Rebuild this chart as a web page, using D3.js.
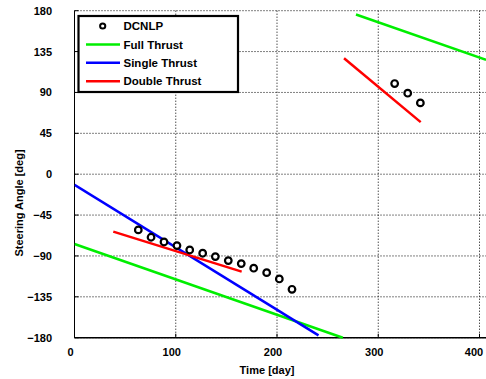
<!DOCTYPE html>
<html><head><meta charset="utf-8">
<script src="https://cdn.jsdelivr.net/npm/d3@7"></script>
<style>body{margin:0;background:#fff}svg{display:block}text{font-family:"Liberation Sans",Arial,sans-serif;font-weight:bold}</style>
</head><body><svg id="c" width="486" height="379"></svg>
<script>
const xTicks=[0,100,200,300,400];
const yTicks=[-180,-135,-90,-45,0,45,90,135,180];
const dcnlpDay=[63,75.6,88.4,101.2,113.8,126.6,139.1,151.9,164.7,177,189.8,202.3,214.8,316.2,329.1,341.6];
const dcnlpAngle=[-61.3,-69.4,-74.6,-78.6,-83.4,-87,-90.7,-95.1,-98.4,-103.5,-108.4,-115.3,-126.7,99.8,89.2,78.5];
const fullDay1=[0,265],fullAngle1=[-76.8,-180];
const fullDay2=[278,406.5],fullAngle2=[175.8,125.9];
const singleDay=[0,241],singleAngle=[-11.8,-177.5];
const doubleDay1=[38.3,165.1],doubleAngle1=[-63.2,-107.3];
const doubleDay2=[266.2,341.9],doubleAngle2=[127.7,57.3];
const legendLabels=["DCNLP","Full Thrust","Single Thrust","Double Thrust"];

const svg=d3.select("#c");
const L=74.5,R=486,T=10.7,B=337.7;
const x=d3.scaleLinear().domain([0,406]).range([L,L+406*1.0125]);
const y=d3.scaleLinear().domain([-180,180]).range([B,T]);
svg.append("defs").append("clipPath").attr("id","cl").append("rect").attr("x",L).attr("y",T-3).attr("width",R-L).attr("height",B-T+6);
const g=svg.append("g");
// grid
xTicks.filter(d=>d>0).forEach(d=>g.append("line").attr("x1",x(d)).attr("x2",x(d)).attr("y1",T).attr("y2",B).attr("stroke","#000").attr("stroke-dasharray","1,2"));
yTicks.forEach(d=>g.append("line").attr("x1",L).attr("x2",R).attr("y1",y(d)).attr("y2",y(d)).attr("stroke","#000").attr("stroke-dasharray","1,2"));
// axes frame
g.append("line").attr("x1",L).attr("x2",L).attr("y1",T).attr("y2",B).attr("stroke","#000").attr("stroke-width",1);
g.append("line").attr("x1",L).attr("x2",R).attr("y1",B).attr("y2",B).attr("stroke","#000").attr("stroke-width",1.5);
// ticks
xTicks.forEach(d=>g.append("line").attr("x1",x(d)).attr("x2",x(d)).attr("y1",B).attr("y2",B-4).attr("stroke","#000"));
yTicks.forEach(d=>g.append("line").attr("x1",L).attr("x2",L+4).attr("y1",y(d)).attr("y2",y(d)).attr("stroke","#000"));
// labels
xTicks.forEach(d=>g.append("text").attr("x",Math.min(x(d)-4,474)).attr("y",356).attr("text-anchor","middle").attr("font-size",11).text(d));
yTicks.forEach(d=>g.append("text").attr("x",52).attr("y",y(d)+4).attr("text-anchor","end").attr("font-size",11).text(d<0?"\u2212"+(-d):d));
g.append("text").attr("x",267).attr("y",374).attr("text-anchor","middle").attr("font-size",11).text("Time [day]");
g.append("text").attr("transform","translate(23,203) rotate(-90)").attr("text-anchor","middle").attr("font-size",11).text("Steering Angle [deg]");
// lines
const line=d3.line().x(d=>x(d[0])).y(d=>y(d[1]));
const pl=g.append("g").attr("clip-path","url(#cl)");
function draw(ds,as,c){pl.append("path").datum(d3.zip(ds,as)).attr("d",line).attr("fill","none").attr("stroke",c).attr("stroke-width",2.5);}
draw(fullDay1,fullAngle1,"#00ee00");draw(fullDay2,fullAngle2,"#00ee00");
draw(singleDay,singleAngle,"#0000ff");
draw(doubleDay1,doubleAngle1,"#ff0000");draw(doubleDay2,doubleAngle2,"#ff0000");
pl.selectAll("circle").data(d3.zip(dcnlpDay,dcnlpAngle)).join("circle").attr("cx",d=>x(d[0])).attr("cy",d=>y(d[1])).attr("r",3.3).attr("fill","#fff").attr("stroke","#000").attr("stroke-width",2.2);
// legend
const lg=svg.append("g");
lg.append("rect").attr("x",78.5).attr("y",16).attr("width",159.5).attr("height",76).attr("fill","#fff").attr("stroke","#000").attr("stroke-width",2.2);
const cols=["#00ee00","#0000ff","#ff0000"];
legendLabels.forEach((t,i)=>{const yy=26+i*18.4;
 if(i===0) lg.append("circle").attr("cx",102.7).attr("cy",yy).attr("r",2.6).attr("fill","#fff").attr("stroke","#000").attr("stroke-width",2);
 else lg.append("line").attr("x1",86).attr("x2",120).attr("y1",yy).attr("y2",yy).attr("stroke",cols[i-1]).attr("stroke-width",2.5);
 lg.append("text").attr("x",123.5).attr("y",yy+4.2).attr("font-size",11.5).text(t);});
</script></body></html>
